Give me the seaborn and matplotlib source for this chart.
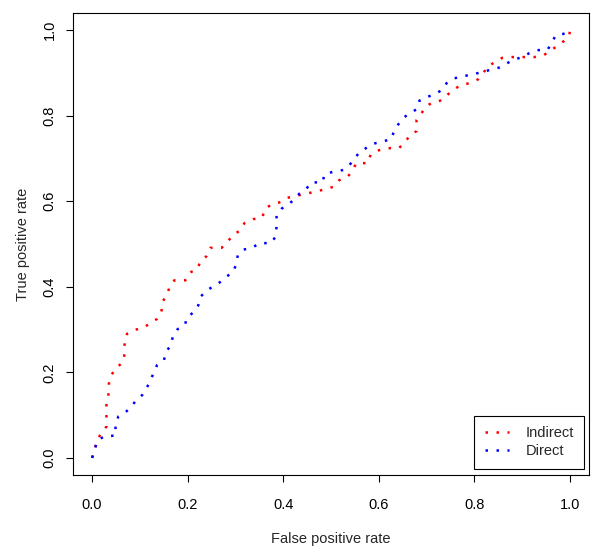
import matplotlib
matplotlib.use("Agg")
import matplotlib.pyplot as plt
import pandas as pd
import seaborn as sns

# ROC curve vertices
indirect_fpr = [0.0, 0.011, 0.019, 0.030, 0.030, 0.030, 0.034, 0.035, 0.040, 0.049,
                0.064, 0.068, 0.068, 0.073, 0.088, 0.107, 0.122, 0.136, 0.145, 0.147,
                0.156, 0.162, 0.172, 0.195, 0.204, 0.220, 0.227, 0.239, 0.247, 0.271,
                0.284, 0.295, 0.309, 0.319, 0.337, 0.356, 0.362, 0.376, 0.395, 0.409,
                0.428, 0.450, 0.469, 0.488, 0.506, 0.517, 0.535, 0.545, 0.553, 0.577,
                0.583, 0.600, 0.619, 0.642, 0.655, 0.665, 0.679, 0.679, 0.689, 0.699,
                0.713, 0.732, 0.744, 0.757, 0.771, 0.790, 0.808, 0.819, 0.828, 0.843,
                0.858, 0.879, 0.902, 0.926, 0.946, 0.960, 0.973, 0.987, 0.999, 1.0]
indirect_tpr = [0.0, 0.042, 0.058, 0.073, 0.100, 0.125, 0.147, 0.173, 0.193, 0.209,
                0.223, 0.243, 0.269, 0.290, 0.299, 0.304, 0.315, 0.325, 0.340, 0.364,
                0.381, 0.398, 0.415, 0.415, 0.433, 0.441, 0.460, 0.471, 0.491, 0.491,
                0.506, 0.521, 0.531, 0.549, 0.558, 0.562, 0.582, 0.593, 0.598, 0.608,
                0.613, 0.618, 0.623, 0.628, 0.634, 0.649, 0.657, 0.672, 0.689, 0.689,
                0.709, 0.719, 0.724, 0.724, 0.738, 0.754, 0.764, 0.790, 0.805, 0.822,
                0.831, 0.836, 0.849, 0.861, 0.871, 0.876, 0.885, 0.900, 0.915, 0.925,
                0.935, 0.937, 0.937, 0.937, 0.942, 0.952, 0.963, 0.974, 0.988, 1.0]

direct_fpr = [0.0, 0.006, 0.011, 0.026, 0.049, 0.049, 0.055, 0.070, 0.082, 0.092,
              0.105, 0.114, 0.122, 0.129, 0.136, 0.150, 0.155, 0.165, 0.169, 0.179,
              0.194, 0.199, 0.212, 0.222, 0.227, 0.239, 0.253, 0.268, 0.280, 0.295,
              0.301, 0.305, 0.317, 0.335, 0.350, 0.374, 0.384, 0.386, 0.386, 0.396,
              0.410, 0.423, 0.434, 0.448, 0.458, 0.482, 0.487, 0.506, 0.526, 0.539,
              0.549, 0.559, 0.573, 0.587, 0.606, 0.626, 0.632, 0.641, 0.651, 0.665,
              0.679, 0.685, 0.699, 0.718, 0.733, 0.742, 0.757, 0.776, 0.794, 0.813,
              0.833, 0.851, 0.866, 0.881, 0.900, 0.915, 0.932, 0.954, 0.962, 0.971,
              0.990, 1.0]
direct_tpr = [0.0, 0.022, 0.040, 0.051, 0.052, 0.078, 0.097, 0.107, 0.119, 0.135,
              0.147, 0.163, 0.181, 0.199, 0.217, 0.227, 0.248, 0.264, 0.284, 0.301,
              0.310, 0.329, 0.340, 0.356, 0.377, 0.390, 0.401, 0.411, 0.423, 0.434,
              0.451, 0.474, 0.487, 0.491, 0.502, 0.502, 0.517, 0.540, 0.567, 0.582,
              0.593, 0.603, 0.618, 0.628, 0.644, 0.644, 0.664, 0.669, 0.673, 0.685,
              0.699, 0.714, 0.724, 0.734, 0.739, 0.745, 0.764, 0.780, 0.795, 0.805,
              0.815, 0.835, 0.843, 0.850, 0.861, 0.876, 0.887, 0.892, 0.896, 0.901,
              0.907, 0.912, 0.921, 0.930, 0.937, 0.946, 0.953, 0.955, 0.972, 0.988,
              0.992, 1.0]

series_names = ["Indirect", "Direct"]
series_colors = ["#FF0000", "#0000FF"]
x_ticks = [0.0, 0.2, 0.4, 0.6, 0.8, 1.0]
y_ticks = [0.0, 0.2, 0.4, 0.6, 0.8, 1.0]
x_label = "False positive rate"
y_label = "True positive rate"

sns.set_style("ticks")
plt.rcParams['font.family'] = ['Liberation Sans', 'DejaVu Sans']
FS = 10.5
DOTS = (0, (1.0, 3.4))

fig = plt.figure(figsize=(6.0, 5.54), dpi=100)
ax = fig.add_axes([73 / 600, 1 - 475 / 554, 516 / 600, 462 / 554])

curves = [(indirect_fpr, indirect_tpr), (direct_fpr, direct_tpr)]
for name, color, (fpr, tpr) in zip(series_names, series_colors, curves):
    df = pd.DataFrame({"fpr": fpr, "tpr": tpr})
    sns.lineplot(data=df, x="fpr", y="tpr", sort=False, estimator=None,
                 color=color, linewidth=1.8, linestyle=DOTS,
                 ax=ax, label=name, legend=False)

ax.set_xlim(-0.04, 1.04)
ax.set_ylim(-0.04, 1.04)
ax.set_xticks(x_ticks)
ax.set_yticks(y_ticks)
ax.set_xticklabels([f"{v:.1f}" for v in x_ticks], fontsize=FS)
ax.set_yticklabels([f"{v:.1f}" for v in y_ticks], fontsize=FS, rotation=90, va="center")
ax.tick_params(direction="out", length=5, width=0.8, colors="black")
ax.tick_params(axis="x", pad=11.5)
ax.tick_params(axis="y", pad=6.8)
ax.set_xlabel(x_label, fontsize=FS, labelpad=14.8)
ax.set_ylabel(y_label, fontsize=FS, labelpad=9)
for s in ax.spines.values():
    s.set_visible(True)
    s.set_color("black")
    s.set_linewidth(0.8)

leg = ax.legend(loc="lower right", bbox_to_anchor=(0.991, 0.013), borderaxespad=0,
                frameon=True, fancybox=False, edgecolor="black", framealpha=1,
                fontsize=FS, handlelength=1.7, borderpad=0.72, labelspacing=0.3,
                handletextpad=1.1)
leg.get_frame().set_linewidth(0.8)

fig.savefig("out.png", dpi=100)
